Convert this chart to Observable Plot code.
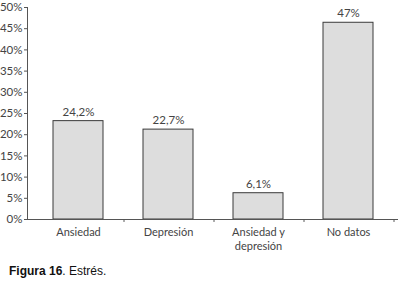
<!DOCTYPE html>
<html>
<head>
<meta charset="utf-8">
<script src="https://cdn.jsdelivr.net/npm/d3@7"></script>
<script src="https://cdn.jsdelivr.net/npm/@observablehq/plot@0.6"></script>
<style>
  html, body { margin: 0; padding: 0; background: #fff; }
  #chart svg { display: block; }
  #caption { font-family: "Liberation Sans", Arial, sans-serif; font-size: 12px; line-height: 14px; color: #111; padding-left: 9px; margin-top: 4px; }
</style>
</head>
<body>
<div id="chart"></div>
<div id="caption"><b>Figura 16</b>. Estrés.</div>
<script>
const categories = ["Ansiedad", "Depresión", "Ansiedad y\ndepresión", "No datos"];
const values = [23.2, 21.2, 6.2, 46.4];
const valueLabels = ["24,2%", "22,7%", "6,1%", "47%"];
const yTicks = [0, 5, 10, 15, 20, 25, 30, 35, 40, 45, 50];

const data = categories.map((c, i) => ({cat: c, value: values[i], label: valueLabels[i]}));
const font = "Lato, 'Open Sans', sans-serif";
const textColor = "#444";

const chart = Plot.plot({
  width: 400,
  height: 260,
  marginLeft: 27,
  marginRight: 2,
  marginTop: 7,
  marginBottom: 41,
  style: {fontFamily: font, fontSize: "11.5px", color: textColor, background: "#fff"},
  x: {domain: categories, paddingInner: 0.45, paddingOuter: 0.264, label: null},
  y: {domain: [0, 50], label: null},
  marks: [
    Plot.barY(data, {x: "cat", y: "value", fill: "#dddddd", stroke: "#3a3a3a", strokeWidth: 1}),
    Plot.text(data, {x: "cat", y: "value", text: "label", dy: -9, fill: textColor, fontSize: 11.5}),
    Plot.frame({anchor: "left", stroke: "#555"}),
    Plot.ruleY([0], {stroke: "#555"}),
    Plot.ruleX(categories, {x: d => d, y1: 0, y2: -0.7, dx: 45.5, stroke: "#555"}),
    Plot.axisY({ticks: yTicks, tickSize: 3, tickPadding: 2, tickFormat: d => d + "%", stroke: "#555", fill: textColor, fontSize: 11.5}),
    Plot.axisX({tickSize: 0, tickPadding: 7, fill: textColor, fontSize: 11, lineHeight: 1.25})
  ]
});
document.getElementById("chart").appendChild(chart);
</script>
</body>
</html>
